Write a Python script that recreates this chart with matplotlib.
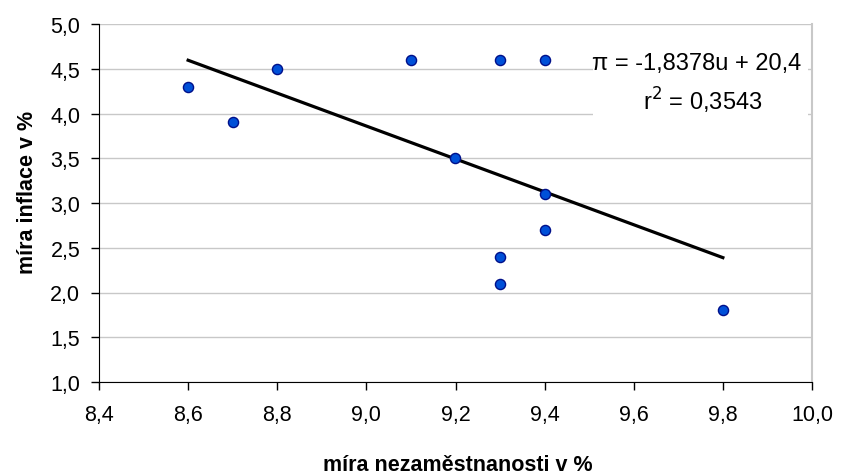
import numpy as np
import matplotlib.pyplot as plt
from matplotlib.ticker import FuncFormatter, MultipleLocator
from matplotlib.patches import Rectangle

plt.rcParams['font.family'] = ['Liberation Sans', 'DejaVu Sans']

# unemployment (x) vs inflation (y), in %
nezamestnanost = [8.6, 8.7, 8.8, 9.1, 9.2, 9.3, 9.3, 9.3, 9.4, 9.4, 9.4, 9.8]
inflace = [4.3, 3.9, 4.5, 4.6, 3.5, 4.6, 2.4, 2.1, 4.6, 3.1, 2.7, 1.8]

# trend line as reported by the spreadsheet
slope = -1.8378
intercept = 20.4
r2 = 0.3543

W, H = 841, 477
fig = plt.figure(figsize=(W / 100, H / 100), dpi=100)
ax = fig.add_axes([99 / W, 1 - 383 / H, (812 - 99) / W, (383 - 25) / H])

x = np.array(nezamestnanost)
xl = np.array([x.min(), x.max()])
ax.plot(xl, slope * xl + intercept, color='black', linewidth=2.3, zorder=3)
ax.plot(x, inflace, 'o', markersize=7.3, markerfacecolor='#0050d8',
        markeredgecolor='#00108a', markeredgewidth=1.0, zorder=4)

ax.set_xlim(8.4, 10.0)
ax.set_ylim(1.0, 5.0)
ax.xaxis.set_major_locator(MultipleLocator(0.2))
ax.yaxis.set_major_locator(MultipleLocator(0.5))
comma = FuncFormatter(lambda v, p: f"{v:.1f}".replace('.', ','))
ax.xaxis.set_major_formatter(comma)
ax.yaxis.set_major_formatter(comma)
ax.tick_params(labelsize=15.5, length=6, width=1, color='black')
ax.tick_params(axis='y', pad=7.5)
ax.tick_params(axis='x', pad=10)

ax.yaxis.grid(True, color='#c8c8c8', linewidth=1)
ax.set_axisbelow(True)
ax.spines['top'].set_visible(False)
ax.spines['right'].set_color('#c8c8c8')
ax.spines['right'].set_linewidth(1.5)
ax.spines['left'].set_color('black')
ax.spines['bottom'].set_color('black')

fig.text(458 / W, 1 - 466 / H, 'míra nezaměstnanosti v %', fontsize=15.5,
         fontweight='bold', ha='center', va='center')
fig.text(28 / W, 1 - 192 / H, 'míra inflace v %', fontsize=15.5,
         fontweight='bold', ha='center', va='center', rotation=90)

# white box behind the trend equation, covering the gridlines
ax.add_patch(Rectangle((593 / W, 1 - 122 / H), (808 - 593) / W, (122 - 45) / H,
                       transform=fig.transFigure, facecolor='white',
                       edgecolor='none', zorder=2))
eq = f"π = {slope:.4f}u + {intercept:.1f}".replace('.', ',')
r2txt = f"r$^2$ = {r2:.4f}".replace('.', ',')
fig.text(697 / W, 1 - 64 / H, eq, fontsize=17, ha='center', va='center', zorder=5)
fig.text(703 / W, 1 - 101 / H, r2txt, fontsize=17, ha='center', va='center', zorder=5)

fig.savefig('out.png', dpi=100)
